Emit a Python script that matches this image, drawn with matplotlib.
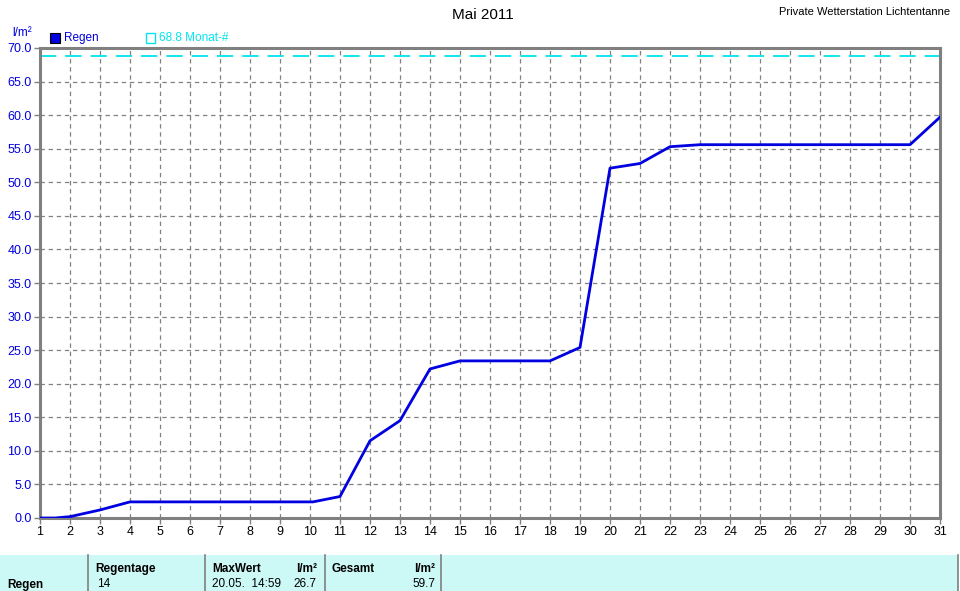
import matplotlib
matplotlib.use("Agg")
import matplotlib.pyplot as plt
from matplotlib.patches import Rectangle
from matplotlib.ticker import FuncFormatter, MultipleLocator

days = [1, 1.5, 2, 3, 4, 10.1, 11, 12, 13, 14, 15, 18, 19, 20, 21, 22, 23, 30, 31]
rain = [0, 0, 0.2, 1.2, 2.4, 2.4, 3.2, 11.5, 14.5, 22.2, 23.4, 23.4, 25.4, 52.1, 52.8, 55.3, 55.6, 55.6, 59.7]
month_avg = 68.8
x_ticks = list(range(1, 32))

W, H = 960, 591
fig = plt.figure(figsize=(W / 100, H / 100), dpi=100)
plt.rcParams['font.family'] = ['Liberation Sans', 'DejaVu Sans']

def fx(px):
    return px / W

def fy(py):
    return 1 - py / H

ax = fig.add_axes([fx(40), fy(518), fx(940) - fx(40), fy(48) - fy(518)])
ax.plot(days, rain, color='#0000e0', lw=2, zorder=3)
ax.axhline(month_avg, color='#00e5ee', lw=1.3, ls=(0, (9, 5)), zorder=2)
ax.set_xlim(1, 31)
ax.set_ylim(0, 70)
ax.set_xticks(x_ticks)
ax.yaxis.set_major_locator(MultipleLocator(5))
ax.yaxis.set_major_formatter(FuncFormatter(lambda v, p: f"{v:.1f}"))
ax.grid(True, color='#808080', ls=(0, (3.5, 3)), lw=0.9)
for s in ax.spines.values():
    s.set_color('#808080')
    s.set_linewidth(2.2)
ax.tick_params(axis='both', colors='#808080', length=4, width=1, labelsize=9, pad=2)
for lab in ax.get_yticklabels():
    lab.set_color('#0000e0')
for lab in ax.get_xticklabels():
    lab.set_color('black')

fig.text(fx(483), fy(15), "Mai 2011", ha='center', va='center', fontsize=11)
fig.text(fx(950), fy(12), "Private Wetterstation Lichtentanne", ha='right', va='center', fontsize=8)
fig.text(fx(12), fy(33), "l/m²", ha='left', va='center', fontsize=8.5, color='#0000e0')

fig.patches.append(Rectangle((fx(50), fy(43)), fx(10), fy(33) - fy(43), transform=fig.transFigure,
                             facecolor='#0000e0', edgecolor='black', lw=0.8))
fig.text(fx(64), fy(38), "Regen", ha='left', va='center', fontsize=8.5, color='#0000e0')
fig.patches.append(Rectangle((fx(146), fy(43)), fx(9), fy(33) - fy(43), transform=fig.transFigure,
                             facecolor='white', edgecolor='#00e5ee', lw=1))
fig.text(fx(159), fy(38), f"{month_avg} Monat-#", ha='left', va='center', fontsize=8.5, color='#00e5ee')

# bottom table
fig.patches.append(Rectangle((0, fy(591)), fx(958), fy(555) - fy(591), transform=fig.transFigure,
                             facecolor='#ccf8f6', edgecolor='none'))
for px in [88, 205, 325, 441, 958]:
    fig.lines.append(plt.Line2D([fx(px), fx(px)], [fy(555), fy(591)], transform=fig.transFigure,
                                color='#808080', lw=1.2))
hdr = dict(va='center', fontsize=8.5, fontweight='bold')
row = dict(va='center', fontsize=8.5)
fig.text(fx(95), fy(569), "Regentage", ha='left', **hdr)
fig.text(fx(212), fy(569), "MaxWert", ha='left', **hdr)
fig.text(fx(317), fy(569), "l/m²", ha='right', **hdr)
fig.text(fx(332), fy(569), "Gesamt", ha='left', **hdr)
fig.text(fx(435), fy(569), "l/m²", ha='right', **hdr)
fig.text(fx(7), fy(585), "Regen", ha='left', **hdr)
fig.text(fx(97), fy(584), "14", ha='left', **row)
fig.text(fx(212), fy(584), "20.05.  14:59", ha='left', **row)
fig.text(fx(316), fy(584), "26.7", ha='right', **row)
fig.text(fx(435), fy(584), f"{rain[-1]}", ha='right', **row)

fig.savefig("out.png", dpi=100)
